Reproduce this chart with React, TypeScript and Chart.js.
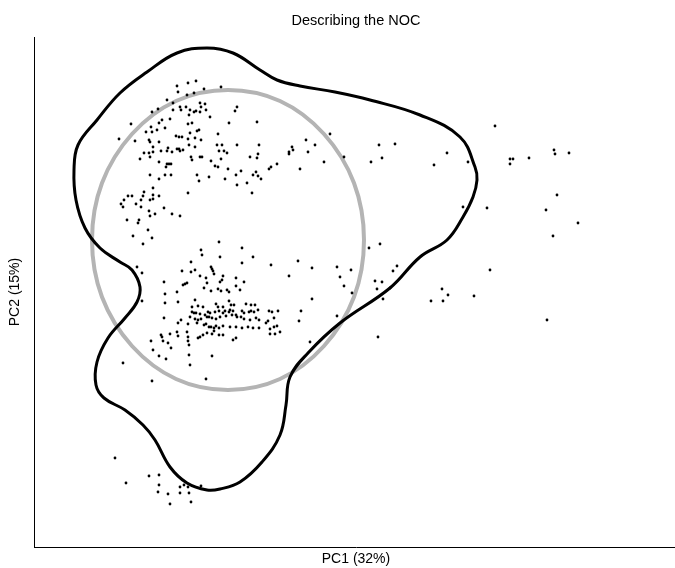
import React, { useEffect, useRef } from "react";
import { Chart, registerables } from "chart.js";

Chart.register(...registerables);

const TITLE = "Describing the NOC";
const X_LABEL = "PC1 (32%)";
const Y_LABEL = "PC2 (15%)";

// Sample scores [PC1, PC2]
const upperGroup: [number, number][] = [
  [14.3, 46.1], [15.4, 46.4], [16.2, 46.6], [14.4, 45.5], [15.3, 45.2], [18.7, 46.0], [16.0, 45.4], [17.0, 45.8],
  [13.3, 44.7], [13.9, 44.4], [14.6, 44.0], [14.7, 43.7], [15.2, 44.0], [16.6, 44.4], [16.7, 44.0], [17.1, 44.3],
  [13.9, 43.7], [15.6, 43.7], [16.0, 43.5], [16.2, 43.6], [15.5, 43.2], [16.6, 43.5], [17.2, 43.7], [11.8, 43.5],
  [12.4, 43.8], [12.8, 42.7], [13.6, 42.8], [17.6, 43.0], [20.1, 43.6], [20.3, 44.0], [9.7, 42.3], [12.5, 42.4],
  [15.4, 42.3], [15.8, 42.4], [19.5, 42.4], [22.3, 42.5], [11.7, 42.0], [11.2, 41.5], [11.8, 41.5], [12.3, 41.7],
  [13.1, 41.9], [16.5, 41.7], [16.3, 41.6], [15.6, 41.4], [8.5, 40.8], [10.1, 40.6], [11.5, 40.7], [11.6, 40.5],
  [12.5, 40.5], [14.2, 41.1], [14.5, 41.0], [14.8, 41.0], [15.4, 40.8], [16.1, 40.9], [16.7, 40.7], [18.4, 41.3],
  [18.3, 40.2], [18.8, 40.2], [20.3, 40.2], [22.5, 40.2], [25.8, 40.0], [25.9, 39.7], [11.9, 40.0], [13.4, 39.9],
  [14.3, 39.8], [14.5, 39.8], [14.9, 39.7], [15.5, 40.2], [16.1, 40.0], [12.7, 39.6], [11.0, 39.4], [11.5, 39.4],
  [11.9, 39.5], [13.3, 39.6], [13.8, 39.5], [14.6, 39.6], [18.5, 39.6], [19.0, 39.6], [19.3, 39.4], [10.6, 38.8],
  [11.6, 39.0], [15.7, 39.0], [15.8, 38.7], [16.6, 39.0], [16.8, 39.0], [17.7, 38.6], [18.7, 38.8], [21.6, 39.0],
  [22.3, 38.9], [12.5, 38.5], [13.3, 38.3], [13.5, 38.3], [13.7, 38.3], [13.2, 38.0], [18.1, 38.1], [18.4, 38.0],
  [19.4, 37.8], [20.7, 37.6], [23.5, 37.8], [23.7, 38.0], [24.3, 38.3], [22.2, 37.5], [11.6, 37.2], [13.1, 37.2],
  [13.7, 37.2], [16.3, 37.2], [17.5, 37.0], [20.2, 37.2], [21.9, 37.2], [22.4, 37.1], [22.7, 36.8], [12.5, 36.8],
  [19.1, 36.8], [21.3, 36.4], [20.3, 36.2], [21.8, 35.4],
  [22.4, 39.3], [25.5, 39.5], [25.5, 39.3], [27.2, 40.7], [28.1, 40.2], [27.4, 39.5], [29.0, 38.5], [31.0, 39.0],
  [26.6, 37.8], [29.6, 41.3], [34.5, 40.2], [36.1, 40.3], [33.7, 38.5], [34.8, 38.9],
];

const middleGroup: [number, number][] = [
  [11.9, 35.9], [16.5, 36.6], [11.0, 35.5], [9.4, 35.1], [9.8, 35.1], [10.9, 35.1], [11.9, 35.2], [12.5, 35.1],
  [9.0, 34.7], [10.7, 34.7], [11.6, 34.7], [11.9, 34.8], [8.7, 34.3], [10.2, 34.3], [8.9, 34.0], [10.7, 34.0],
  [13.0, 33.9], [15.4, 35.4], [11.5, 33.6], [12.1, 33.3], [11.6, 33.1], [13.8, 33.3], [14.6, 33.1], [9.3, 32.7],
  [10.5, 32.7], [10.4, 32.4], [11.4, 31.7], [9.9, 31.1], [11.8, 30.9], [10.9, 30.3], [18.5, 30.5], [16.7, 29.7],
  [16.8, 29.2],
];

const lowerGroup: [number, number][] = [
  [18.6, 29.0], [20.8, 29.9], [21.9, 29.0], [20.8, 28.4], [23.7, 28.2], [10.3, 28.0], [10.8, 27.4], [15.7, 28.5],
  [14.8, 27.6], [15.7, 27.5], [16.1, 27.7], [17.7, 28.0], [17.8, 27.8], [17.9, 27.6], [16.6, 27.1], [18.0, 27.3],
  [18.9, 27.1], [20.2, 26.9], [13.0, 26.5], [14.9, 26.2], [15.1, 26.3], [15.3, 26.4], [17.2, 26.9], [17.3, 26.4],
  [18.8, 26.7], [18.6, 26.5], [21.0, 26.5], [20.2, 26.1], [17.0, 25.9], [18.4, 25.8], [18.7, 25.6], [19.3, 25.7],
  [19.5, 25.5], [20.6, 25.7], [17.7, 25.6], [14.3, 25.5], [13.1, 25.3], [10.8, 24.6], [13.1, 24.4], [14.4, 24.5],
  [16.1, 24.7], [16.4, 24.1], [16.9, 24.0], [18.2, 24.3], [18.4, 24.0], [18.9, 24.0], [19.5, 24.6], [19.7, 24.2],
  [20.0, 24.2], [21.2, 24.3], [21.7, 24.2], [22.1, 24.2], [15.8, 24.0], [15.8, 23.5], [16.0, 23.4], [16.2, 23.4],
  [16.6, 23.3], [17.1, 23.2], [17.4, 23.5], [17.6, 23.4], [18.1, 23.5], [18.5, 23.6], [18.9, 23.4], [19.1, 23.6],
  [19.5, 23.5], [19.6, 23.7], [19.9, 23.6], [20.2, 23.2], [20.8, 23.6], [21.0, 23.4], [21.5, 23.5], [21.7, 23.6],
  [22.0, 23.5], [22.4, 23.7], [23.5, 23.6], [23.8, 23.5], [24.4, 23.6], [13.0, 22.9], [14.7, 22.7], [15.6, 23.0],
  [16.1, 22.8], [16.4, 22.7], [16.7, 22.8], [17.3, 23.0], [17.5, 23.0], [17.8, 22.9], [18.2, 22.8], [18.6, 23.0],
  [19.2, 23.1], [19.8, 23.2], [20.3, 23.0], [20.7, 23.0], [21.0, 22.8], [21.6, 22.7], [22.2, 22.9], [22.5, 22.7],
  [23.2, 22.4], [24.0, 22.9], [14.4, 22.4], [15.4, 22.3], [16.3, 22.4], [17.0, 22.2], [17.2, 22.3], [17.5, 22.0],
  [17.7, 22.0], [18.0, 21.9], [18.2, 22.1], [18.5, 21.9], [18.9, 22.1], [19.6, 22.0], [20.2, 22.0], [20.8, 21.9],
  [21.4, 22.0], [21.9, 21.9], [22.5, 21.9], [23.4, 22.6], [23.6, 21.8], [24.0, 22.0], [24.3, 22.1], [24.6, 21.5],
  [24.1, 21.3], [23.6, 21.3], [14.3, 21.5], [14.4, 21.1], [15.3, 21.5], [15.4, 21.0], [16.4, 20.9], [16.6, 21.0],
  [16.9, 21.2], [17.3, 21.4], [17.8, 21.3], [18.0, 21.6], [18.5, 21.2], [18.9, 21.2], [19.9, 20.7], [20.2, 20.9],
  [12.7, 21.2], [12.8, 21.0], [13.6, 21.3], [11.7, 20.6], [12.9, 20.6], [13.4, 20.4], [13.7, 19.9], [15.4, 20.6],
  [15.5, 20.2], [11.9, 19.7], [12.5, 19.1], [13.2, 18.8], [15.5, 19.2], [17.8, 19.1], [15.6, 18.2], [17.2, 16.8],
  [11.8, 16.6], [8.9, 18.4],
  [26.4, 28.6], [27.8, 27.9], [25.5, 27.1], [27.8, 24.8], [26.7, 23.6], [26.5, 22.6], [27.6, 20.5],
];

const rightGroup: [number, number][] = [
  [46.1, 42.1], [41.3, 39.4], [40.0, 38.2], [43.4, 38.5], [47.6, 38.8], [47.9, 38.8], [47.6, 38.3], [49.5, 38.9],
  [52.0, 39.7], [52.1, 39.3], [53.5, 39.4], [52.3, 35.2], [51.2, 33.7], [54.4, 32.4], [51.9, 31.1], [42.9, 34.0],
  [45.3, 33.9], [45.6, 27.7], [40.8, 25.8], [41.4, 25.2], [39.7, 24.6], [40.9, 24.6], [44.0, 25.1], [51.3, 22.7],
  [33.5, 29.9], [34.6, 30.3], [30.3, 28.0], [31.7, 27.7], [30.6, 27.0], [31.0, 26.1], [31.8, 25.4], [34.1, 26.6],
  [34.8, 26.5], [34.3, 25.8], [35.6, 25.9], [34.9, 24.8], [35.9, 27.6], [36.3, 28.1], [30.3, 23.1], [34.4, 21.0],
];

const bottomGroup: [number, number][] = [
  [8.1, 8.9], [9.2, 6.4], [11.5, 7.1], [12.5, 7.2], [12.5, 6.2], [12.4, 5.5], [13.4, 5.3], [14.6, 6.0],
  [15.0, 6.2], [15.4, 6.0], [14.6, 5.4], [15.5, 5.4], [16.7, 6.1], [13.6, 4.3], [15.7, 4.5],
];

// Density contour (closed)
const contourPC1 = [17.3, 19.9, 22.6, 24.3, 26.6, 30.1, 33.6, 38.6, 42.6, 44.1, 44.3, 43.9, 42.9, 41.3, 38.6, 35.6, 30.6, 27.4, 25.6, 25.2, 24.6, 22.8, 20.6, 18.6, 17.3, 15.3, 13.6, 12.1, 10.9, 9.1, 7.0, 6.2, 6.3, 7.4, 9.1, 10.3, 10.6, 9.8, 8.6, 6.6, 5.1, 4.2, 4.0, 4.4, 6.3, 8.6, 11.3, 14.3];
const contourPC2 = [49.9, 49.4, 47.7, 46.7, 46.1, 45.5, 44.7, 43.2, 41.0, 38.0, 36.7, 35.0, 33.0, 30.7, 29.0, 25.9, 22.4, 19.4, 17.0, 14.2, 11.2, 8.5, 6.5, 5.8, 5.7, 6.4, 8.0, 10.7, 12.2, 13.7, 14.9, 16.2, 18.5, 20.9, 22.9, 24.5, 26.0, 27.7, 28.5, 29.9, 31.9, 34.7, 37.7, 40.2, 42.7, 45.4, 47.5, 49.4];

// Confidence ellipse outline
const ellipsePC1 = [33.0, 32.0, 29.0, 24.6, 19.4, 14.2, 9.8, 6.8, 5.8, 6.8, 9.8, 14.2, 19.4, 24.6, 29.0, 32.0];
const ellipsePC2 = [30.7, 36.4, 41.3, 44.6, 45.7, 44.6, 41.3, 36.4, 30.7, 25.0, 20.1, 16.8, 15.7, 16.8, 20.1, 25.0];

const X_MIN = 0, X_MAX = 64.4, Y_MIN = 0, Y_MAX = 51.0;

function closedLoop(xs: number[], ys: number[]) {
  const pts = xs.map((x, i) => ({ x, y: ys[i] }));
  return [...pts, pts[0], pts[1], pts[2]];
}

export default function App() {
  const ref = useRef<HTMLCanvasElement | null>(null);
  useEffect(() => {
    if (!ref.current) return;
    const allScores = [...upperGroup, ...middleGroup, ...lowerGroup, ...rightGroup, ...bottomGroup].map(([x, y]) => ({ x, y }));
    const contour = closedLoop(contourPC1, contourPC2);
    const ellipse = closedLoop(ellipsePC1, ellipsePC2);
    const hideEnds = (n: number, color: string) => (ctx: any) =>
      ctx.p0DataIndex === 0 || ctx.p0DataIndex === n + 1 ? "rgba(0,0,0,0)" : color;
    const family = "'Liberation Sans', Arial, sans-serif";
    const font = { family, size: 14, weight: "normal" as const };
    const titleFont = { family, size: 14.5, weight: "normal" as const };
    const chart = new Chart(ref.current, {
      type: "scatter",
      data: {
        datasets: [
          {
            label: "scores",
            data: allScores,
            pointRadius: 1.4,
            pointBackgroundColor: "#000",
            pointBorderWidth: 0,
            showLine: false,
            order: 0,
          },
          {
            label: "contour",
            data: contour,
            showLine: true,
            borderColor: "#000",
            borderWidth: 3,
            pointRadius: 0,
            tension: 0.4,
            fill: false,
            segment: { borderColor: hideEnds(contourPC1.length, "#000") },
            order: 1,
          },
          {
            label: "ellipse",
            data: ellipse,
            showLine: true,
            borderColor: "#b4b4b4",
            borderWidth: 4,
            pointRadius: 0,
            tension: 0.36,
            fill: false,
            segment: { borderColor: hideEnds(ellipsePC1.length, "#b4b4b4") },
            order: 2,
          },
        ],
      },
      options: {
        responsive: false,
        animation: false,
        events: [],
        layout: { padding: { left: 0, right: 8, top: 0, bottom: 0 } },
        plugins: {
          legend: { display: false },
          tooltip: { enabled: false },
          title: {
            display: true,
            text: TITLE,
            color: "#000",
            font: titleFont,
            fullSize: false,
            padding: { top: 12, bottom: 7.6 },
          },
        },
        scales: {
          x: {
            type: "linear",
            min: X_MIN,
            max: X_MAX,
            grid: { display: false },
            ticks: { display: false },
            border: { display: true, color: "#000", width: 1 },
            title: { display: true, text: X_LABEL, color: "#000", font, padding: { top: 0, bottom: 0 } },
            afterFit: (s: any) => { s.height = 21; },
          },
          y: {
            type: "linear",
            min: Y_MIN,
            max: Y_MAX,
            grid: { display: false },
            ticks: { display: false },
            border: { display: true, color: "#000", width: 1 },
            title: { display: true, text: Y_LABEL, color: "#000", font, padding: { top: 6.6, bottom: 0 } },
            afterFit: (s: any) => { s.width = 34; },
          },
        },
      },
    });
    return () => chart.destroy();
  }, []);
  return (
    <div style={{ position: "fixed", left: 0, top: 0, width: 675, height: 568, overflow: "hidden", background: "#fff" }}>
      <canvas ref={ref} width={686} height={568} style={{ display: "block" }} />
    </div>
  );
}
